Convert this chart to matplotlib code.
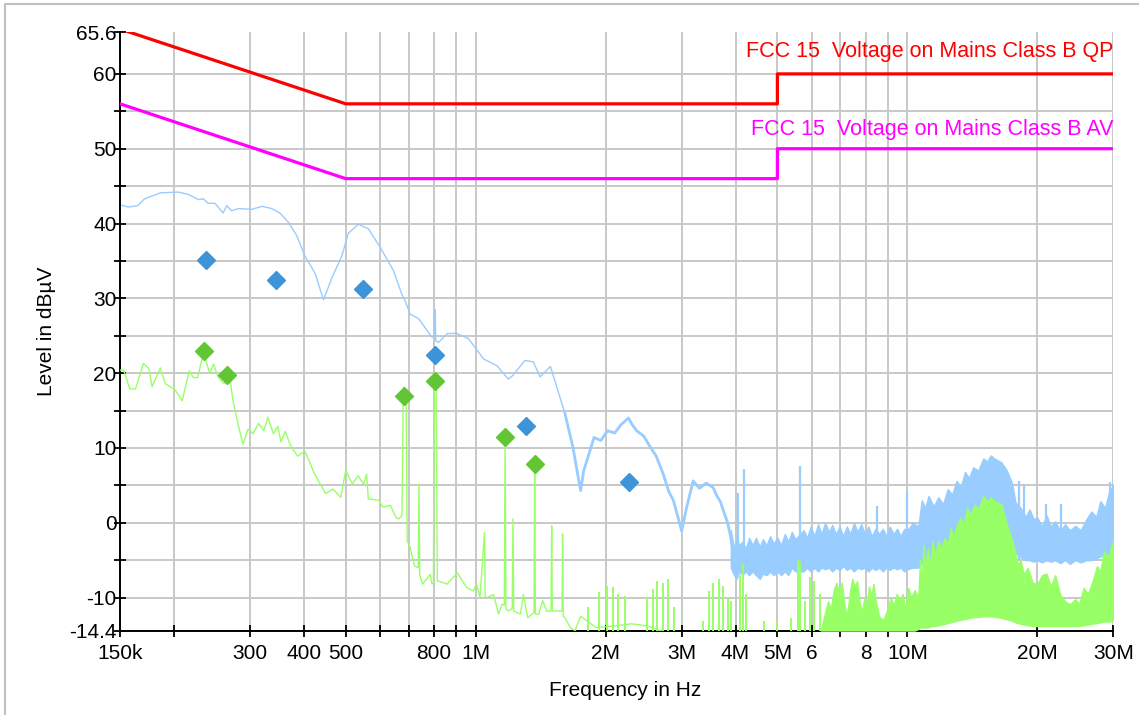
import matplotlib.pyplot as plt
import numpy as np
from matplotlib.lines import Line2D

plt.rcParams['font.family'] = ['Liberation Sans', 'DejaVu Sans']

# FCC part 15 class B limits (conducted, mains)
limit_f = [150e3, 500e3, 5e6, 5e6, 30e6]
qp_limit = [66, 56, 56, 60, 60]
av_limit = [56, 46, 46, 50, 50]

# peak detector trace, below 4 MHz (kHz, dBuV)
peak_f = [150, 157, 165, 171, 186, 205, 216, 228, 234, 240, 249, 260, 265, 272,
          282, 303, 320, 337, 352, 368, 385, 402, 425, 444, 465, 490, 507, 535,
          564, 600, 645, 674, 686, 705, 737, 792, 805, 806, 808, 820, 860, 905,
          963, 1043, 1120, 1190, 1220, 1300, 1360, 1410, 1490, 1610, 1680, 1750,
          1780, 1810, 1880, 1950, 2020, 2100, 2170, 2260, 2300, 2360, 2450, 2540,
          2620, 2720, 2800, 2870, 2950, 3000, 3080, 3190, 3300, 3420, 3550, 3620,
          3690, 3760, 3830, 3900, 3940, 4000]
peak_db = [42.5, 42.2, 42.4, 43.3, 44.1, 44.2, 43.9, 43.2, 43.3, 42.7, 42.7, 41.4,
           42.4, 41.7, 42.0, 41.9, 42.3, 42.0, 41.4, 40.2, 38.4, 35.7, 33.3, 29.8,
           32.8, 35.7, 38.7, 39.9, 39.3, 36.9, 33.7, 30.6, 29.7, 27.9, 27.3, 24.8,
           25.0, 28.5, 24.3, 24.1, 25.3, 25.3, 24.6, 21.9, 21.0, 19.2, 19.7, 21.7,
           21.5, 19.5, 20.9, 14.6, 10.1, 4.3, 7.0, 8.3, 11.4, 11.0, 12.3, 12.0,
           13.1, 14.0, 13.2, 12.3, 11.6, 10.1, 8.9, 6.5, 4.2, 3.0, 0.5, -1.1, 2.0,
           5.6, 4.6, 5.3, 4.7, 3.6, 2.8, 1.4, 0.1, -2.0, -3.5, -6.0]

# peak detector band above 4 MHz (MHz, upper / lower edge in dBuV)
band_f = [3.90, 3.97, 4.02, 4.08, 4.15, 4.22, 4.30, 4.38, 4.46, 4.55, 4.63, 4.72,
          4.81, 4.90, 5.00, 5.10, 5.20, 5.30, 5.40, 5.50, 5.75, 5.86, 5.97, 6.09,
          6.21, 6.33, 6.45, 6.58, 6.70, 6.83, 6.97, 7.10, 7.24, 7.38, 7.52, 7.67,
          7.82, 7.97, 8.12, 8.28, 8.44, 8.60, 8.77, 8.94, 9.11, 9.29, 9.47, 9.65,
          9.84, 10.0, 10.3, 10.6, 10.8, 11.0, 11.2, 11.5, 11.8, 12.1, 12.4, 12.7,
          13.0, 13.3, 13.6, 13.9, 14.2, 14.6, 15.0, 15.3, 15.6, 16.0, 16.5, 17.0,
          17.5, 17.8, 18.3, 18.8, 19.2, 19.6, 20.0, 20.5, 21.0, 21.5, 22.0, 22.6,
          23.2, 23.8, 24.5, 25.2, 26.0, 26.7, 27.4, 28.0, 28.7, 29.3, 30.0]
band_hi = [-1.0, -3.5, -2.0, -3.0, -2.5, -3.5, -2.0, -3.0, -2.0, -3.2, -2.2, -3.0,
           -1.8, -2.8, -2.0, -3.0, -1.5, -2.5, -1.2, -2.2, -1.0, -2.0, -0.5, -1.8,
           -0.2, -1.5, 0.0, -1.2, -0.3, -1.5, -0.5, -1.8, -0.5, -1.5, 0.0, -1.2,
           -0.2, -1.5, -0.5, -1.8, -0.8, -1.5, -0.8, -1.8, -0.5, -1.5, -0.8, -1.8,
           -0.8, -1.0, 0.0, -0.5, 3.0, 2.0, 3.6, 2.2, 3.4, 2.5, 4.5, 3.8, 5.6, 4.8,
           6.8, 6.0, 7.4, 7.0, 8.6, 8.2, 9.0, 8.5, 8.1, 7.0, 5.2, 2.7, 2.0, 0.8,
           1.8, 0.5, 0.7, -0.5, 1.0, -0.5, 0.2, -1.1, -0.2, -1.0, -0.4, -1.0, 0.5,
           1.5, 0.8, 2.9, 2.0, 4.0, 5.2]
band_lo = [-6.0, -7.0, -7.5, -6.5, -7.0, -6.5, -7.0, -6.5, -7.0, -7.5, -6.8, -7.0,
           -6.5, -7.0, -6.5, -7.0, -6.5, -7.0, -6.0, -6.5, -6.5, -6.0, -6.5, -6.0,
           -6.5, -6.0, -6.2, -6.0, -6.5, -6.0, -6.3, -5.8, -6.3, -6.0, -6.5, -6.0,
           -6.2, -6.0, -6.5, -6.0, -6.3, -6.0, -6.5, -6.0, -6.3, -6.0, -6.2, -6.0,
           -6.5, -6.2, -6.0, -6.0, -5.5, -5.0, -5.0, -4.8, -4.5, -4.3, -4.0, -4.0,
           -3.8, -3.6, -3.5, -3.5, -3.3, -3.2, -3.0, -3.0, -3.0, -3.0, -3.0, -3.2,
           -3.5, -4.0, -4.6, -5.0, -5.0, -5.2, -5.0, -5.3, -5.0, -5.2, -5.0, -5.4,
           -5.0, -5.5, -5.0, -5.3, -5.0, -5.0, -4.8, -4.5, -4.5, -4.2, -4.0]
peak_spike_f = [4.05, 4.18, 5.64, 8.5, 9.98, 18.1, 18.6, 21.0, 22.7, 29.5]
peak_spike_db = [4.0, 7.2, 7.6, 2.3, 4.3, 5.6, 5.0, 2.5, 2.5, 5.5]

# average detector trace (kHz, dBuV)
avg_f = [150, 153, 158, 163, 170, 175, 178, 186, 191, 201, 209, 217, 222, 227,
         234, 242, 247, 253, 261, 270, 274, 282, 289, 297, 305, 314, 323, 330,
         340, 348, 354, 362, 374, 387, 402, 416, 422, 449, 467, 487, 500, 518,
         534, 550, 559, 564, 597, 609, 635, 654, 663, 675, 680, 690, 694, 705,
         722, 736, 739, 742, 753, 785, 792, 798, 802, 810, 815, 820, 858, 907,
         954, 987, 1005, 1023, 1048, 1052, 1060, 1100, 1130, 1150, 1165, 1170,
         1175, 1190, 1215, 1220, 1225, 1270, 1290, 1320, 1365, 1370, 1375, 1400,
         1430, 1460, 1495, 1500, 1505, 1510, 1585, 1590, 1595, 1610, 1660, 1700,
         1750, 1800, 1900, 2100, 2300, 2500, 2700]
avg_db = [20.4, 20.4, 17.9, 17.9, 21.3, 20.6, 18.2, 20.7, 18.6, 17.8, 16.3, 20.3,
          19.4, 19.4, 22.7, 20.0, 21.2, 19.5, 18.6, 19.1, 16.3, 13.0, 10.5, 12.5,
          11.9, 13.3, 12.3, 14.1, 11.9, 12.9, 10.8, 12.2, 10.1, 8.9, 9.6, 7.6, 6.7,
          3.9, 4.5, 3.4, 7.0, 5.2, 6.3, 5.2, 6.5, 3.2, 3.0, 2.1, 2.3, 0.7, 0.5, 1.0,
          18.1, 17.5, -2.4, -3.3, -5.8, -6.0, 5.2, -7.0, -8.2, -6.9, -8.2, -8.0,
          19.0, 19.0, -7.8, -7.8, -8.2, -6.7, -8.7, -9.1, -8.2, -10.0, -1.3, -9.8,
          -10.0, -9.6, -12.2, -10.9, -11.0, 11.4, -11.5, -11.8, -11.5, 0.5, -11.8,
          -12.2, -9.6, -12.7, -12.0, 7.9, -12.2, -12.2, -10.4, -11.8, -11.8, -0.4,
          -11.8, -11.8, -11.8, -1.5, -12.5, -12.7, -14.1, -14.4, -12.5, -13.0,
          -14.0, -13.8, -13.5, -13.8, -14.5]
avg_spike_f = [1.82, 1.93, 2.02, 2.08, 2.14, 2.22, 2.50, 2.57, 2.63, 2.71, 2.79,
               2.88, 3.36, 3.47, 3.54, 3.66, 3.75, 3.84, 3.90, 4.10, 4.17, 4.23,
               4.65, 5.0, 5.38, 5.58, 5.64, 5.80, 5.96, 6.08, 6.26]
avg_spike_db = [-11.3, -9.3, -8.4, -8.6, -9.5, -9.8, -10.0, -8.9, -7.8, -8.0, -7.5,
                -11.3, -13.1, -9.1, -8.0, -7.5, -8.4, -10.0, -10.4, -7.0, -5.5,
                -9.5, -13.1, -13.1, -12.7, -5.0, -5.3, -10.5, -7.3, -7.8, -9.5]

# dense average emissions above 6 MHz (MHz, upper / lower edge in dBuV)
dense_f = [6.30, 6.45, 6.55, 6.65, 6.75, 6.85, 6.95, 7.05, 7.15, 7.25, 7.35, 7.45,
           7.55, 7.65, 7.75, 7.85, 7.95, 8.05, 8.15, 8.25, 8.35, 8.45, 8.6, 8.8,
           9.0, 9.15, 9.3, 9.45, 9.6, 9.75, 9.9, 10.05, 10.2, 10.4, 10.6, 10.7,
           10.8, 10.9, 11.0, 11.15, 11.3, 11.45, 11.6, 11.8, 12.0, 12.2, 12.4,
           12.6, 12.8, 13.0, 13.25, 13.5, 13.75, 14.0, 14.3, 14.6, 15.0, 15.3,
           15.6, 16.0, 16.5, 17.0, 17.5, 17.8, 18.0, 18.3, 18.6, 19.0, 19.5, 20.0,
           20.5, 21.0, 21.5, 22.0, 22.6, 23.2, 23.8, 24.5, 25.0, 25.6, 26.2, 26.8,
           27.5, 28.0, 28.5, 29.2, 30.0]
dense_hi = [-14.4, -12.0, -10.5, -11.5, -9.0, -8.0, -9.5, -8.0, -11.0, -12.5, -9.5,
            -7.5, -8.5, -7.8, -10.5, -12.0, -10.0, -11.0, -8.5, -9.8, -8.2, -10.5,
            -12.5, -13.0, -11.5, -10.0, -11.0, -9.5, -10.5, -9.5, -11.5, -8.7,
            -10.0, -9.0, -10.0, -5.0, -8.0, -3.0, -6.0, -3.5, -5.5, -2.5, -4.5,
            -2.4, -3.5, -2.0, -3.0, -0.7, -1.8, -0.5, 0.7, -0.2, 2.0, 1.0, 2.4, 1.8,
            3.6, 2.8, 3.4, 2.8, 2.5, -0.2, -2.4, -4.0, -5.5, -5.0, -6.9, -6.0, -8.0,
            -8.2, -7.0, -6.8, -8.5, -7.0, -9.6, -10.5, -10.9, -10.2, -10.9, -8.7,
            -9.5, -8.0, -5.8, -6.5, -3.8, -4.5, -2.4]
dense_lo = [-14.4, -14.4, -14.4, -14.4, -14.4, -14.4, -14.4, -14.4, -14.4, -14.4,
            -14.4, -14.4, -14.4, -14.4, -14.4, -14.4, -14.4, -14.4, -14.4, -14.4,
            -14.4, -14.4, -14.4, -14.4, -14.4, -14.4, -14.4, -14.4, -14.4, -14.4,
            -14.4, -14.4, -14.4, -14.4, -14.2, -14.0, -14.0, -14.0, -14.0, -14.0,
            -13.9, -13.8, -13.8, -13.7, -13.6, -13.5, -13.4, -13.3, -13.2, -13.1,
            -13.0, -12.9, -12.8, -12.7, -12.6, -12.6, -12.5, -12.5, -12.5, -12.6,
            -12.7, -12.9, -13.1, -13.3, -13.4, -13.5, -13.6, -13.7, -13.8, -13.8,
            -13.8, -13.8, -13.8, -13.8, -13.8, -13.8, -13.8, -13.8, -13.8, -13.7,
            -13.6, -13.5, -13.4, -13.3, -13.2, -13.2, -13.1]

# final measurements
qp_f = [237e3, 345e3, 549e3, 806e3, 1.31e6, 2.27e6]
qp_db = [35.1, 32.4, 31.3, 22.4, 13.0, 5.4]
av_f = [235e3, 265e3, 683e3, 806e3, 1.17e6, 1.37e6]
av_db = [23.0, 19.7, 17.0, 18.9, 11.4, 7.9]

xticks = [150e3, 200e3, 300e3, 400e3, 500e3, 600e3, 700e3, 800e3, 900e3, 1e6,
          2e6, 3e6, 4e6, 5e6, 6e6, 7e6, 8e6, 9e6, 10e6, 20e6, 30e6]
xlabels = ['150k', '', '300', '400', '500', '', '', '800', '', '1M', '2M', '3M',
           '4M', '5M', '6', '', '8', '', '10M', '20M', '30M']
ymin, ymax = -14.4, 65.6

blue = '#99ccff'
green = '#99ff66'

fig = plt.figure(figsize=(11.39, 7.15), dpi=100)
W, H = 1139, 715
ax = fig.add_axes([120 / W, 1 - 630.5 / H, 993.3 / W, 598.5 / H])
ax.set_xscale('log')
ax.set_xlim(150e3, 30e6)
ax.set_ylim(ymin, ymax)

# grid
for yv in range(-10, 61, 5):
    ax.axhline(yv, color='#c8c8c8', lw=1.4, zorder=0)
for xv in xticks[1:]:
    ax.axvline(xv, color='#c8c8c8', lw=1.4, zorder=0)

# peak trace
pf = np.array(peak_f) * 1e3
pdb = np.array(peak_db)
ax.plot(pf, pdb, color=blue, lw=1.0, zorder=2)
noisy = pf >= 1.6e6
ax.plot(pf[noisy], pdb[noisy], color=blue, lw=2.0, zorder=2)
bf = np.array(band_f) * 1e6
ax.fill_between(bf, band_lo, band_hi, color=blue, lw=1.0, edgecolor=blue, zorder=2)
ax.vlines(np.array(peak_spike_f) * 1e6, -5, peak_spike_db, color=blue, lw=1.6, zorder=2)

# average trace
af = np.array(avg_f) * 1e3
ax.plot(af, avg_db, color=green, lw=1.0, zorder=3)
ax.vlines(np.array(avg_spike_f) * 1e6, ymin, avg_spike_db, color=green, lw=1.4, zorder=3)
df = np.array(dense_f) * 1e6
ax.fill_between(df, dense_lo, dense_hi, color=green, lw=1.0, edgecolor=green, zorder=3)

# limits
ax.plot(limit_f, qp_limit, color='#ff0000', lw=2.3, zorder=4)
ax.plot(limit_f, av_limit, color='#ff00ff', lw=2.3, zorder=4)
ax.text(0.630, 62.2, 'FCC 15  Voltage on Mains Class B QP', color='#ff0000',
        fontsize=15.5, va='baseline', ha='left', transform=ax.get_yaxis_transform())
ax.text(0.635, 51.8, 'FCC 15  Voltage on Mains Class B AV', color='#ff00ff',
        fontsize=15.5, va='baseline', ha='left', transform=ax.get_yaxis_transform())

# markers
ax.plot(qp_f, qp_db, 'D', color='#3d94d8', ms=9, mec='#3d94d8', zorder=5)
ax.plot(av_f, av_db, 'D', color='#62c534', ms=9, mec='#62c534', zorder=5)

# axes styling
for s in ['top', 'right']:
    ax.spines[s].set_visible(False)
ax.spines['left'].set_linewidth(1.4)
ax.spines['bottom'].set_linewidth(1.4)
ax.set_xticks(xticks)
ax.set_xticklabels(xlabels)
ax.xaxis.set_minor_locator(plt.NullLocator())
yt = [ymin] + list(range(-10, 61, 5)) + [ymax]
ylab = ['-14.4'] + [str(v) if v % 10 == 0 else '' for v in range(-10, 61, 5)] + ['65.6']
ax.set_yticks(yt)
ax.set_yticklabels(ylab)
ax.tick_params(axis='both', direction='inout', length=8, width=1.3, labelsize=15)
ax.tick_params(axis='y', pad=-1.5)
ax.tick_params(axis='x', pad=6)

fig.text(47 / W, 1 - 331 / H, 'Level in dBµV', rotation=90, ha='center', va='center',
         fontsize=15)
fig.text(625 / W, 1 - 690 / H, 'Frequency in Hz', ha='center', va='center', fontsize=15)

# frame around the picture
fig.add_artist(Line2D([5 / W, 5 / W, 1], [0, 1 - 4 / H, 1 - 4 / H],
                      color='#c0c0c0', lw=1.5, transform=fig.transFigure))

fig.savefig('out.png', dpi=100)
